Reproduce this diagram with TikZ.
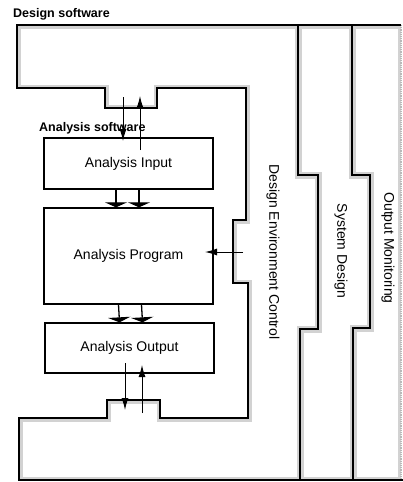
\documentclass[tikz,border=0pt]{standalone}
\usepackage{fontspec}
\setmainfont{Liberation Sans}
\usetikzlibrary{arrows.meta}
\begin{document}
\begin{tikzpicture}[x=1pt,y=-1pt,
  wall/.style={line width=2.3pt},
  halftone/.style={gray!35,line width=7pt},
  box/.style={draw,line width=1.3pt,minimum width=169pt,inner sep=0pt,font=\fontsize{14}{16}\selectfont},
  band/.style={rotate=-90,inner sep=0pt,font=\fontsize{14}{16}\selectfont},
  tag/.style={anchor=base west,inner sep=0pt,font=\bfseries\fontsize{12.5}{15}\selectfont},
  flow/.style={line width=1pt,-{Latex[length=12pt,width=7pt]}},
  pipe/.style={line width=1.3pt,-{Triangle[length=5pt,width=22pt]}}]
  \useasboundingbox (0,0) rectangle (403,482);
  % the three zones, kept for the grey edges
  \path[save path=\zonedesign] (17,25) -- (298,25) -- (298,175) -- (318,175) -- (318,329)
    -- (300,329) -- (300,480) -- (19,480) -- (19,418) -- (107,418) -- (107,400) -- (160,400)
    -- (160,418) -- (248,418) -- (248,283) -- (233,283) -- (233,220) -- (246,220) -- (246,88)
    -- (157,88) -- (157,108) -- (105,108) -- (105,88) -- (17,88) -- cycle;
  \path[save path=\zonesystem] (298,25) -- (352,25) -- (352,175) -- (370,175) -- (370,328)
    -- (353,328) -- (353,480) -- (300,480) -- (300,329) -- (318,329) -- (318,175) -- (298,175) -- cycle;
  \path[save path=\zonemonitor] (352,25) -- (401,25) -- (401,480) -- (353,480) -- (353,328)
    -- (370,328) -- (370,175) -- (352,175) -- cycle;
  \begin{scope}
    \clip[use path=\zonedesign];
    \draw[halftone,use path=\zonedesign];
  \end{scope}
  \begin{scope}
    \clip[use path=\zonesystem];
    \draw[halftone,use path=\zonesystem];
  \end{scope}
  \begin{scope}
    \clip[use path=\zonemonitor];
    \draw[halftone,use path=\zonemonitor];
  \end{scope}
  \draw[gray!55,densely dotted,line width=1.2pt] (401,25) -- (401,480);

  % walls
  \draw[wall] (401,25) -- (17,25) -- (17,88) -- (105,88) -- (105,108) -- (157,108) -- (157,88)
    -- (246,88) -- (246,220) -- (233,220) -- (233,283) -- (248,283) -- (248,418) -- (160,418)
    -- (160,400) -- (107,400) -- (107,418) -- (19,418) -- (19,480) -- (403,480);
  \draw[wall] (298,25) -- (298,175) -- (318,175) -- (318,329) -- (300,329) -- (300,480);
  \draw[wall] (352,25) -- (352,175) -- (370,175) -- (370,328) -- (353,328) -- (353,480);

  \node[tag] (dsw) at (13,17) {Design software};
  \node[tag] (asw) at (39,131) {Analysis software};

  \node[box,minimum height=51pt] (input) at (128.5,163.5) {Analysis Input};
  \node[box,minimum height=96pt] (program) at (128.5,256) {Analysis Program};
  \node[box,minimum height=50pt] (output) at (129.5,348) {Analysis Output};

  \node[band] (dec) at (273,252) {Design Environment Control};
  \node[band] (sdn) at (341,251) {System Design};
  \node[band] (omn) at (388,248) {Output Monitoring};

  \draw[pipe] ([xshift=-12.5pt]input.south) -- ([xshift=-12.5pt]program.north);
  \draw[pipe] ([xshift=10.5pt]input.south) -- ([xshift=10.5pt]program.north);
  \draw[pipe] ([xshift=-10pt]program.south) -- ([xshift=-10pt]output.north);
  \draw[pipe] ([xshift=13pt]program.south) -- ([xshift=13pt]output.north);

  \coordinate (inA) at (123,97);  \coordinate (inB) at (123,141);
  \coordinate (upA) at (140,150); \coordinate (upB) at (140,96);
  \coordinate (outA) at (125,363); \coordinate (outB) at (125,410);
  \coordinate (retA) at (142,413); \coordinate (retB) at (142,365);
  \coordinate (ctlA) at (243,252); \coordinate (ctlB) at (205,252);
  \draw[flow] (inA) -- (inB);
  \draw[flow] (upA) -- (upB);
  \draw[flow] (outA) -- (outB);
  \draw[flow] (retA) -- (retB);
  \draw[flow] (ctlA) -- (ctlB);
\end{tikzpicture}
\end{document}
